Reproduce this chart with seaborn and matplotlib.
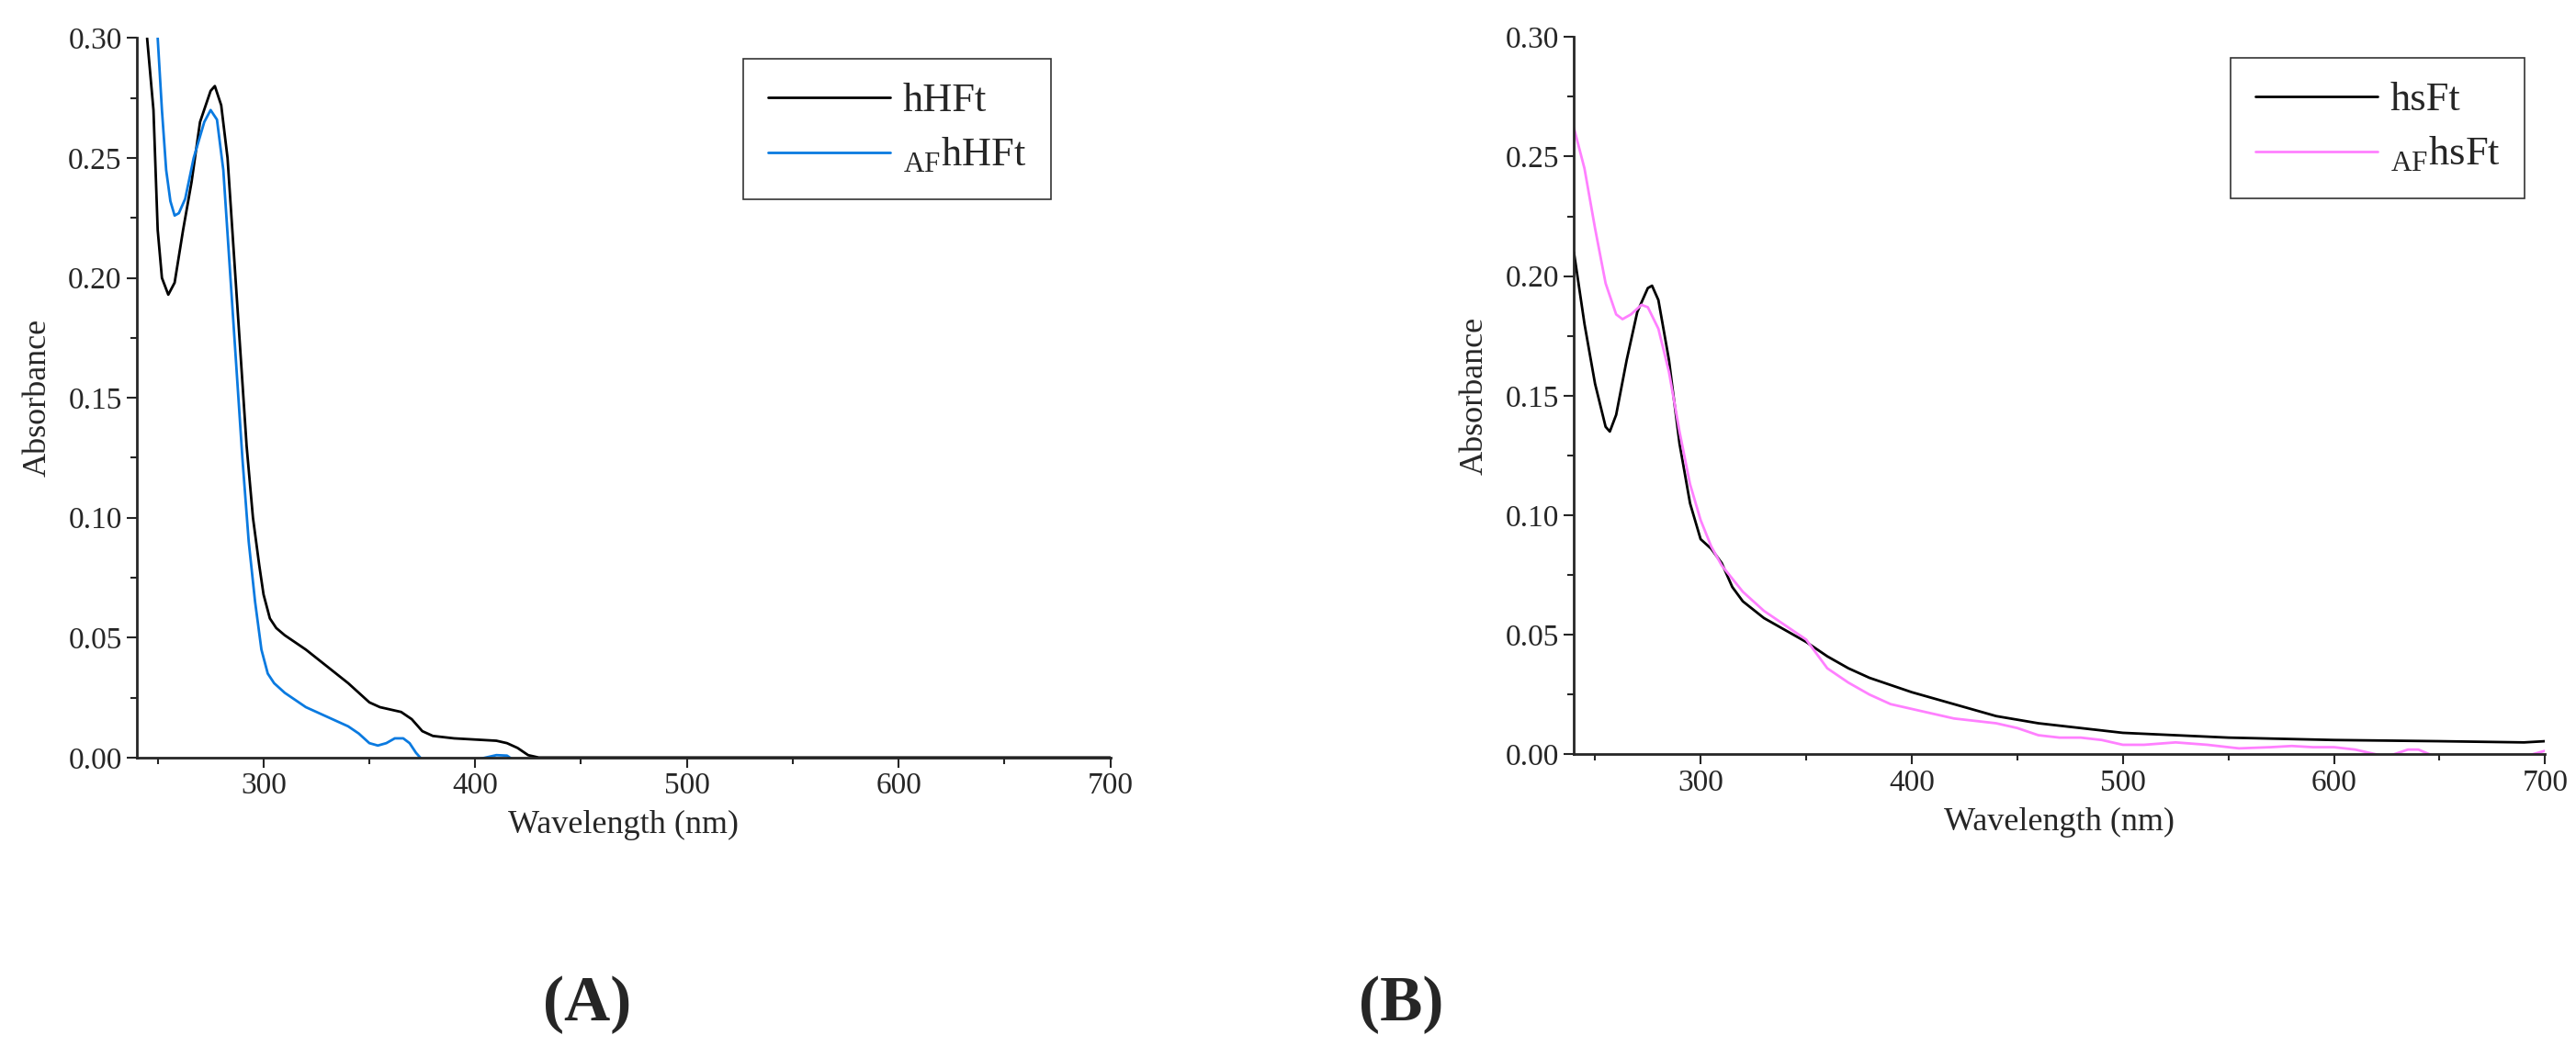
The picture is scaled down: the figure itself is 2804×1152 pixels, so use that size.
import numpy as np
import pandas as pd
import matplotlib.pyplot as plt
import seaborn as sns
from matplotlib.ticker import MultipleLocator

# (A) hHFt
a_wl = [245, 248, 250, 252, 255, 258, 262, 266, 270, 275, 277, 280, 283, 286, 289, 292, 295, 298,
        300, 303, 306, 310, 320, 330, 340, 350, 355, 365, 370, 375, 380, 390, 400, 410, 415, 420,
        425, 430, 500, 600, 700]
a_hhft = [0.30, 0.27, 0.22, 0.20, 0.193, 0.198, 0.22, 0.24, 0.265, 0.278, 0.28, 0.272, 0.25, 0.21,
          0.17, 0.13, 0.10, 0.08, 0.068, 0.058, 0.054, 0.051, 0.045, 0.038, 0.031, 0.023, 0.021,
          0.019, 0.016, 0.011, 0.009, 0.008, 0.0075, 0.007, 0.006, 0.004, 0.001, 0.0, 0.0, 0.0, 0.0]
# (A) AF hHFt
a_wl_af = [250, 252, 254, 256, 258, 260, 263, 267, 272, 275, 278, 281, 284, 287, 290, 293, 296,
           299, 302, 305, 310, 320, 330, 340, 345, 350, 354, 358, 362, 366, 369, 372, 375, 400,
           405, 410, 415, 418, 700]
a_afhhft = [0.30, 0.27, 0.245, 0.232, 0.226, 0.227, 0.233, 0.25, 0.265, 0.27, 0.266, 0.245, 0.205,
            0.165, 0.125, 0.09, 0.065, 0.045, 0.035, 0.031, 0.027, 0.021, 0.017, 0.013, 0.01,
            0.006, 0.005, 0.006, 0.008, 0.008, 0.006, 0.002, -0.001, -0.001, 0.0, 0.001, 0.0008,
            -0.001, -0.001]

# (B) hsFt
b_wl = [240, 245, 250, 255, 257, 260, 265, 270, 275, 277, 280, 285, 290, 295, 300, 305, 310, 315,
        320, 330, 340, 350, 360, 370, 380, 400, 420, 440, 460, 480, 500, 550, 600, 650, 690, 700]
b_hsft = [0.21, 0.18, 0.155, 0.137, 0.135, 0.142, 0.165, 0.185, 0.195, 0.196, 0.19, 0.165, 0.13,
          0.105, 0.09, 0.086, 0.08, 0.07, 0.064, 0.057, 0.052, 0.047, 0.041, 0.036, 0.032, 0.026,
          0.021, 0.016, 0.013, 0.011, 0.009, 0.007, 0.006, 0.0055, 0.005, 0.0055]
# (B) AF hsFt
b_wl_af = [240, 245, 250, 255, 260, 263, 267, 272, 275, 280, 285, 290, 295, 300, 305, 310, 320,
           330, 340, 350, 355, 360, 370, 380, 390, 400, 410, 420, 440, 450, 460, 470, 480, 490,
           500, 510, 525, 540, 555, 570, 580, 590, 600, 610, 620, 625, 635, 640, 648, 690, 700]
b_afhsft = [0.262, 0.245, 0.22, 0.197, 0.184, 0.182, 0.184, 0.188, 0.187, 0.178, 0.16, 0.135,
            0.113, 0.098, 0.087, 0.079, 0.068, 0.06, 0.054, 0.048, 0.042, 0.036, 0.03, 0.025,
            0.021, 0.019, 0.017, 0.015, 0.013, 0.011, 0.008, 0.007, 0.007, 0.006, 0.004, 0.004,
            0.005, 0.004, 0.0025, 0.003, 0.0035, 0.003, 0.003, 0.002, 0.0, -0.001, 0.002, 0.002,
            -0.001, -0.001, 0.0015]

sns.set_style('ticks')
plt.rcParams['font.family'] = ['Liberation Serif', 'DejaVu Serif']
plt.rcParams['mathtext.fontset'] = 'custom'
plt.rcParams['mathtext.rm'] = 'Liberation Serif'

fig = plt.figure(figsize=(28.04, 11.52), dpi=100)
ax1 = fig.add_axes([0.053, 0.284, 0.378, 0.68])
ax2 = fig.add_axes([0.611, 0.287, 0.377, 0.678])

sns.lineplot(x=a_wl, y=a_hhft, ax=ax1, color='black', lw=2, label='hHFt')
sns.lineplot(x=a_wl_af, y=a_afhhft, ax=ax1, color='#0a7ae0', lw=2, label=r'$_{\mathrm{AF}}$hHFt')
sns.lineplot(x=b_wl, y=b_hsft, ax=ax2, color='black', lw=2, label='hsFt')
sns.lineplot(x=b_wl_af, y=b_afhsft, ax=ax2, color='#ff80ff', lw=2, label=r'$_{\mathrm{AF}}$hsFt')

for ax in (ax1, ax2):
    ax.set_xlim(240, 700)
    ax.set_ylim(0, 0.30)
    ax.xaxis.set_major_locator(MultipleLocator(100))
    ax.xaxis.set_minor_locator(MultipleLocator(50))
    ax.yaxis.set_major_locator(MultipleLocator(0.05))
    ax.yaxis.set_minor_locator(MultipleLocator(0.025))
    ax.yaxis.set_major_formatter(plt.FormatStrFormatter('%.2f'))
    ax.tick_params(which='major', length=8, width=1.5, labelsize=24, direction='out')
    ax.tick_params(which='minor', length=5, width=1.5, direction='out')
    for s in ('left', 'bottom'):
        ax.spines[s].set_linewidth(2)
    sns.despine(ax=ax)
    ax.set_xlabel('Wavelength (nm)', fontsize=26, labelpad=8)
    ax.set_ylabel('Absorbance', fontsize=26, labelpad=12)
    leg = ax.legend(loc='upper right', fontsize=32, frameon=True, fancybox=False,
                    handlelength=3.0, handletextpad=0.3, borderpad=0.6, labelspacing=0.4)
    leg.get_frame().set_edgecolor('black')
    leg.get_frame().set_linewidth(1.2)

ax1.get_legend().set_bbox_to_anchor((0.96, 1.0))

fig.text(0.228, 0.05, '(A)', fontsize=50, fontweight='bold', ha='center', va='center')
fig.text(0.544, 0.05, '(B)', fontsize=50, fontweight='bold', ha='center', va='center')

fig.savefig('out.png', dpi=100)
